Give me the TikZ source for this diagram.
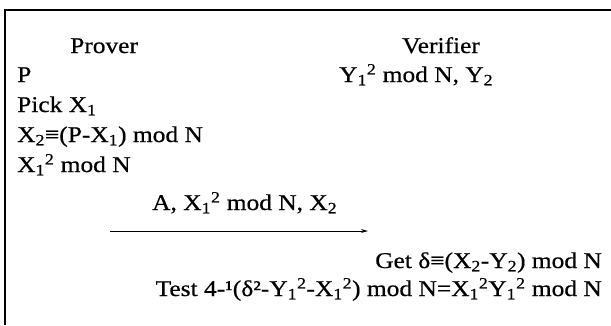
\documentclass[tikz,border=0pt]{standalone}
\usepackage{fontspec}
\setmainfont{Liberation Serif}[FakeStretch=1.13,FakeBold=0.6]
\usetikzlibrary{arrows.meta}
\newcommand\sbb[1]{\textsubscript{#1}}
\newcommand\spp[1]{\textsuperscript{#1}}
\begin{document}
\begin{tikzpicture}[x=1pt,y=1pt,
  txt/.style={inner sep=0pt,font=\fontsize{22.5}{27}\selectfont},
  lw/.style={txt,anchor=base west},
  le/.style={txt,anchor=base east},
  frame/.style={line width=1.6pt},
  msg/.style={line width=1pt,-{Stealth[length=7pt,width=4pt]}}]
\useasboundingbox (0,0) rectangle (611,-325);
\draw[frame] (5,-325) -- (5,-10) -- (611,-10);
\node[lw] (prover) at (70,-53) {Prover};
\node[lw] (verifier) at (402,-53) {Verifier};
\node[lw] (p) at (17,-82) {P};
\node[lw] (y) at (339,-82) {Y\sbb{1}\spp{2} mod N, Y\sbb{2}};
\node[lw] (pick) at (17,-112) {Pick X\sbb{1}};
\node[lw] (x2) at (17,-142) {X\sbb{2}≡(P-X\sbb{1}) mod N};
\node[lw] (x1) at (17,-172) {X\sbb{1}\spp{2} mod N};
\node[lw] (msgl) at (152,-210) {A, X\sbb{1}\spp{2} mod N, X\sbb{2}};
\coordinate (as) at (110,-231);
\coordinate (ae) at (368,-231);
\draw[msg] (as) -- (ae);
\node[le] (get) at (602,-268) {Get δ≡(X\sbb{2}-Y\sbb{2}) mod N};
\node[le] (test) at (602,-296) {Test 4-¹(δ²-Y\sbb{1}\spp{2}-X\sbb{1}\spp{2}) mod N=X\sbb{1}\spp{2}Y\sbb{1}\spp{2} mod N};
\end{tikzpicture}
\end{document}
